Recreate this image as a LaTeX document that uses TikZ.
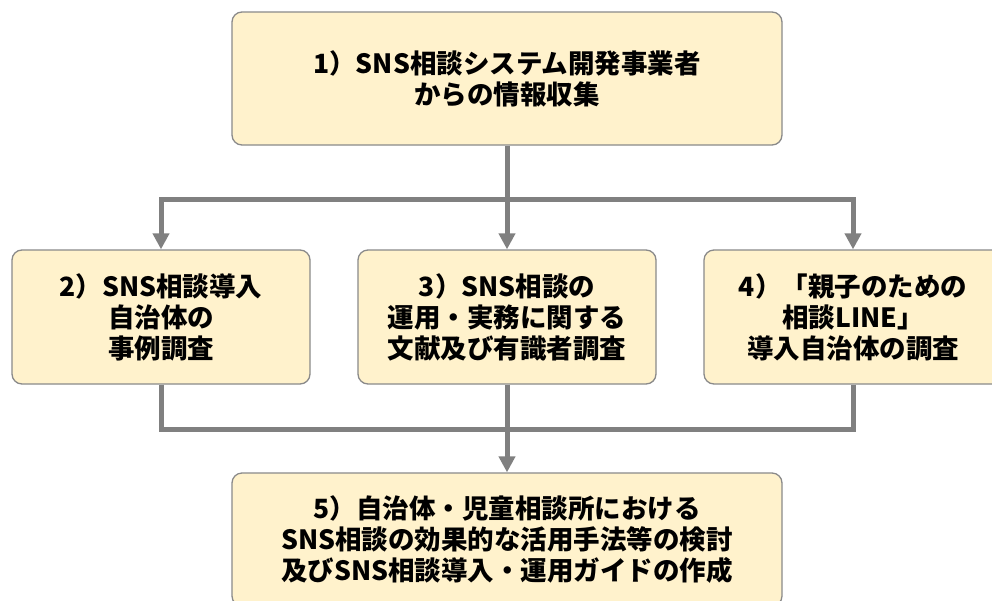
\documentclass[tikz,border=0pt]{standalone}
\usepackage{fontspec}
\newfontfamily\jpfont{Noto Sans CJK JP}
\usetikzlibrary{arrows.meta}
\definecolor{boxfill}{HTML}{FFF2CC}
\definecolor{boxline}{HTML}{8A8A8A}
\definecolor{conncol}{HTML}{808080}
\tikzset{
  stepbox/.style={draw=boxline, line width=1.3pt, fill=boxfill, rounded corners=10pt,
    align=center, inner sep=0pt,
    font=\jpfont\bfseries\fontsize{26.5}{31}\selectfont},
  wide/.style={minimum width=550pt, minimum height=133pt},
  narrow/.style={minimum width=298pt, minimum height=134pt},
  conn/.style={draw=conncol, line width=5pt},
  arrowconn/.style={conn, -{Triangle[length=16pt,width=16pt]}}
}
\begin{document}
\begin{tikzpicture}[x=1pt,y=-1pt]
\useasboundingbox (0,0) rectangle (992,600);
\fill[white] (0,0) rectangle (992,600);
\node[stepbox, wide] (n1) at (507,78.5) {1）SNS相談システム開発事業者\\からの情報収集};
\node[stepbox, narrow] (n2) at (161,317) {2）SNS相談導入\\自治体の\\事例調査};
\node[stepbox, narrow] (n3) at (507,317) {3）SNS相談の\\運用・実務に関する\\文献及び有識者調査};
\node[stepbox, narrow] (n4) at (853,317) {4）「親子のための\\相談LINE」\\導入自治体の調査};
\node[stepbox, wide] (n5) at (507,539.5) {5）自治体・児童相談所における\\SNS相談の効果的な活用手法等の検討\\及びSNS相談導入・運用ガイドの作成};
\coordinate (split) at (507,199);
\coordinate (merge) at (507,429);
\draw[arrowconn] (split) -| (n2.north);
\draw[arrowconn] (split) -| (n4.north);
\draw[arrowconn] (n1.south) -- (n3.north);
\draw[conn] (n2.south) |- (merge);
\draw[conn] (n4.south) |- (merge);
\draw[arrowconn] (n3.south) -- (n5.north);
\end{tikzpicture}
\end{document}
